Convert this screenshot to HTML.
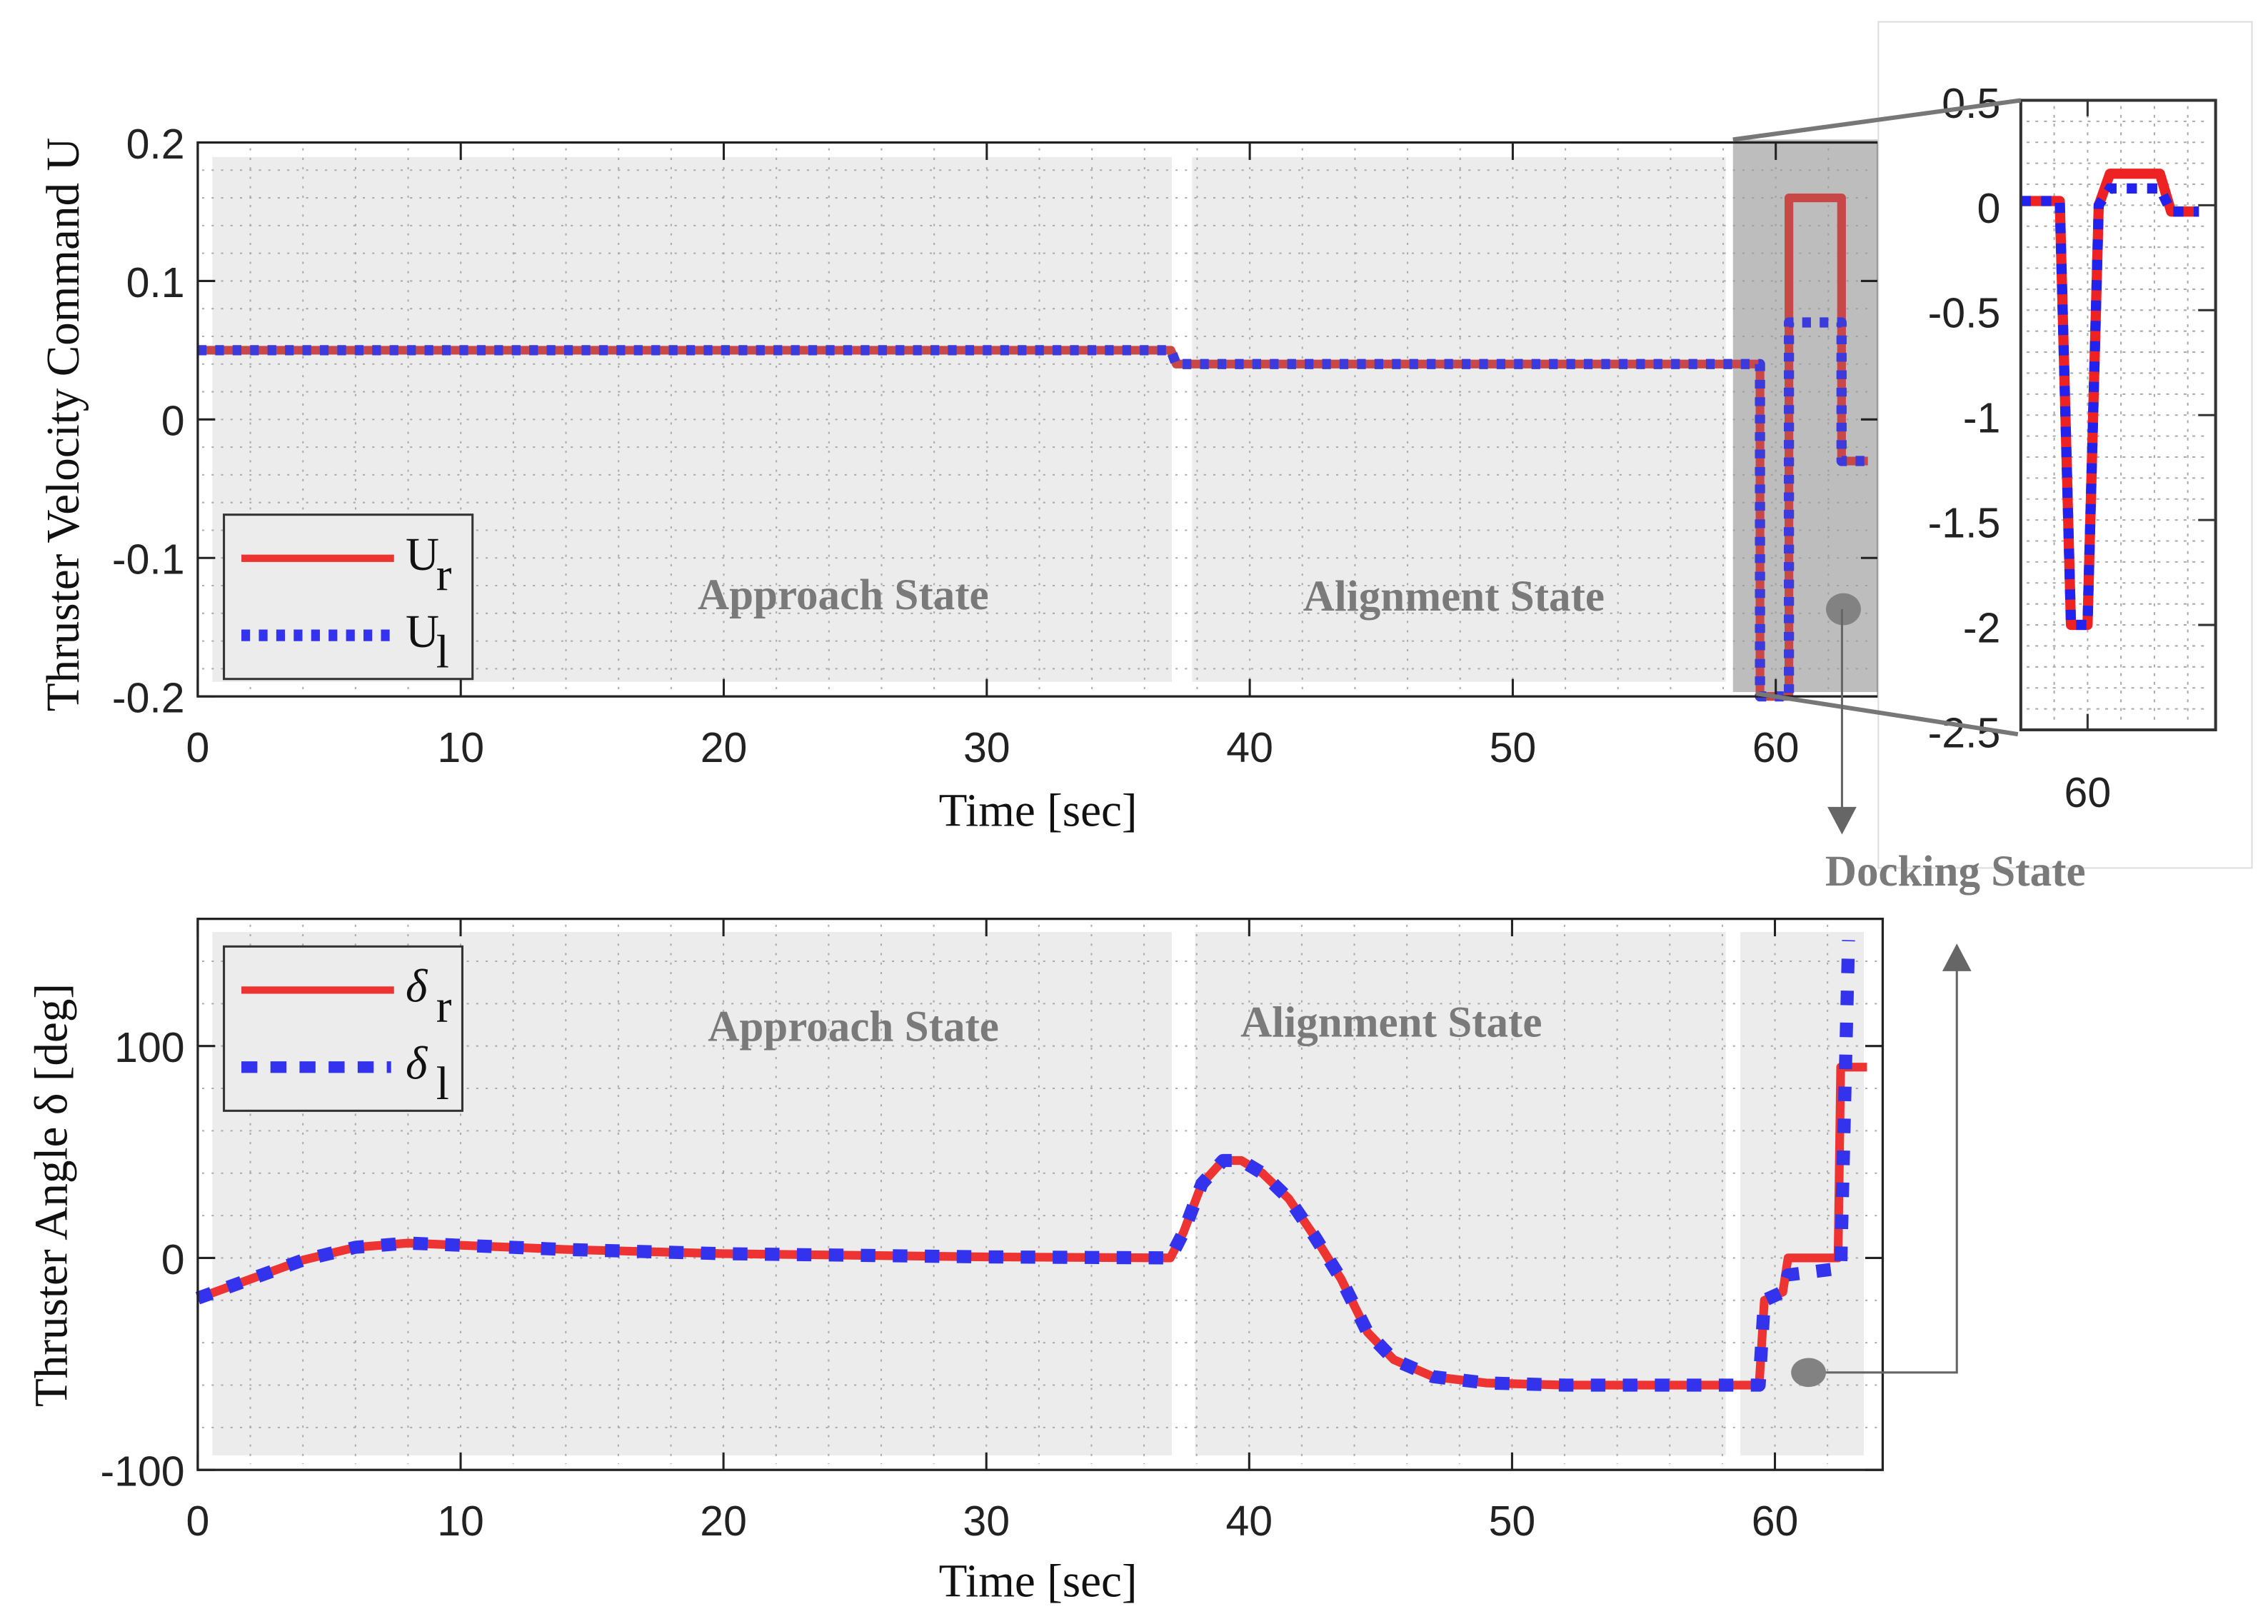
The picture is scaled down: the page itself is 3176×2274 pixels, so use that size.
<!DOCTYPE html>
<html><head><meta charset="utf-8"><style>
html,body{margin:0;padding:0;background:#fff;}
svg{display:block;}
.tk{font-family:"Liberation Sans",sans-serif;font-size:29px;fill:#222;}
.ttl{font-family:"Liberation Serif",serif;font-size:32px;fill:#111;}
.st{font-family:"Liberation Serif",serif;font-weight:bold;font-size:30px;fill:#7a7a7a;}
</style></head><body>
<svg id="fig" xmlns="http://www.w3.org/2000/svg" width="3176" height="2274" viewBox="0 0 1560 1117">
<rect width="1560" height="1117" fill="#fff"/>
<g id="topchart"></g>
<g id="botchart"></g>
<g id="inschart"></g>
</svg>
<script>
// ---- data ----
const urT = [0, 37, 37.2, 59.4, 59.4, 60.5, 60.5, 62.5, 62.5, 63.5];
const urV = [0.05, 0.05, 0.04, 0.04, -0.2, -0.2, 0.16, 0.16, -0.03, -0.03];
const ulT = [0, 37, 37.2, 59.4, 59.4, 60.5, 60.5, 62.5, 62.5, 63.5];
const ulV = [0.05, 0.05, 0.04, 0.04, -0.2, -0.2, 0.07, 0.07, -0.03, -0.03];
const drT = [0, 2, 4, 6, 8, 10, 14, 20, 30, 37, 37.5, 38.2, 39, 39.7, 40.5, 41.5, 42.5, 43.5, 44.5, 45.5, 47, 49, 52, 59.4, 59.6, 60.3, 60.5, 62.4, 62.5, 63.5];
const drV = [-19, -10, -1, 5, 7, 6, 4, 2, 0.5, 0, 12, 35, 46, 46, 40, 28, 10, -10, -35, -48, -56, -59, -60, -60, -20, -16, 0, 0, 90, 90];
const dlT = [0, 2, 4, 6, 8, 10, 14, 20, 30, 37, 37.5, 38.2, 39, 39.7, 40.5, 41.5, 42.5, 43.5, 44.5, 45.5, 47, 49, 52, 59.4, 59.6, 60.3, 60.5, 62.4, 62.5, 62.8];
const dlV = [-19, -10, -1, 5, 7, 6, 4, 2, 0.5, 0, 12, 35, 46, 46, 40, 28, 10, -10, -35, -48, -56, -59, -60, -60, -20, -16, -8, -5, -5, 150];
const insT = [58.8, 59.5, 59.7, 60.0, 60.2, 60.4, 61.3, 61.5, 62.0];
const insRV = [0.02, 0.02, -2.0, -2.0, 0.0, 0.15, 0.15, -0.03, -0.03];
const insLV = [0.02, 0.02, -2.0, -2.0, 0.0, 0.08, 0.08, -0.03, -0.03];
const topYTicks = [0.2, 0.1, 0, -0.1, -0.2];
const topYLabels = ["0.2", "0.1", "0", "-0.1", "-0.2"];
const botYTicks = [100, 0, -100];
const botYLabels = ["100", "0", "-100"];
const xTicks = [0, 10, 20, 30, 40, 50, 60];
const insYTicks = [0.5, 0, -0.5, -1, -1.5, -2, -2.5];
const insYLabels = ["0.5", "0", "-0.5", "-1", "-1.5", "-2", "-2.5"];

const NS = "http://www.w3.org/2000/svg";
function mk(parent, tag, attrs, text) {
  const e = document.createElementNS(NS, tag);
  for (const k in attrs) e.setAttribute(k, attrs[k]);
  if (text !== undefined) e.textContent = text;
  parent.appendChild(e);
  return e;
}
function nm(el, name) {
  
  
  return el;
}
function axis(x0, x1, y0, y1, xmin, xmax, ymin, ymax) {
  return {
    sx: t => x0 + (t - xmin) / (xmax - xmin) * (x1 - x0),
    sy: v => y1 - (v - ymin) / (ymax - ymin) * (y1 - y0)
  };
}
function pathD(ax, T, V) {
  return T.map((t, i) => (i ? "L" : "M") + ax.sx(t).toFixed(1) + " " + ax.sy(V[i]).toFixed(1)).join(" ");
}

function chart(g, box, ax, ymin, ymax, yStep, yTicks, yLabels, shades, series, legend, states) {
  const [x0, y0, x1, y1] = box;
  for (const s of shades) {
    const r = mk(g, "rect", {x: s[0], y: s[1], width: s[2] - s[0], height: s[3] - s[1], fill: s[4]});
    
    
  }
  const gg = mk(g, "g", {stroke: "#9a9a9a", "stroke-width": 1, "stroke-dasharray": "1.5 5", opacity: 0.8});
  
  
  for (let t = 2; t < 64; t += 2) mk(gg, "line", {x1: ax.sx(t), x2: ax.sx(t), y1: y0 + 4, y2: y1 - 4});
  for (let v = ymin + yStep; v < ymax - 1e-9; v += yStep) mk(gg, "line", {x1: x0 + 3, x2: x1 - 3, y1: ax.sy(v), y2: ax.sy(v)});
  for (const s of series) {
    const p = mk(g, "path", {d: pathD(ax, s.T, s.V), fill: "none", stroke: s.c, "stroke-width": s.w, "stroke-dasharray": s.dash || "none", "stroke-linejoin": "round"});
    
    
  }
  const f = mk(g, "rect", {x: x0, y: y0, width: x1 - x0, height: y1 - y0, fill: "none", stroke: "#222", "stroke-width": 1.6});
  
  
  for (const t of xTicks) {
    const X = ax.sx(t);
    mk(g, "line", {x1: X, x2: X, y1: y1, y2: y1 - 12, stroke: "#222", "stroke-width": 1.5});
    mk(g, "line", {x1: X, x2: X, y1: y0, y2: y0 + 12, stroke: "#222", "stroke-width": 1.5});
    const tx = mk(g, "text", {x: X, y: y1 + 45, "text-anchor": "middle", class: "tk"}, String(t));
    
    
  }
  yTicks.forEach((v, i) => {
    const Y = ax.sy(v);
    mk(g, "line", {x1: x0, x2: x0 + 12, y1: Y, y2: Y, stroke: "#222", "stroke-width": 1.5});
    mk(g, "line", {x1: x1, x2: x1 - 12, y1: Y, y2: Y, stroke: "#222", "stroke-width": 1.5});
    const tx = mk(g, "text", {x: x0 - 9, y: Y + 11, "text-anchor": "end", class: "tk"}, yLabels[i]);
    
    
  });
  for (const s of states) {
    const t = mk(g, "text", {x: s[0], y: s[1], "text-anchor": "middle", class: "st"}, s[2]);
    
    
  }
  const lg = mk(g, "g", {});
  
  
  const [lx0, ly0, lx1, ly1, sym, l1, l2] = legend;
  mk(lg, "rect", {x: lx0, y: ly0, width: lx1 - lx0, height: ly1 - ly0, fill: "#ececec", stroke: "#333", "stroke-width": 1.5});
  mk(lg, "line", {x1: lx0 + 12, x2: lx0 + 117, y1: l1, y2: l1, stroke: "#ee3333", "stroke-width": 5});
  mk(lg, "line", {x1: lx0 + 12, x2: lx0 + 115, y1: l2, y2: l2, stroke: "#3333ee", "stroke-width": 8, "stroke-dasharray": sym === "U" ? "6 6" : "11 9"});
  const e1 = mk(lg, "text", {x: lx0 + 125, y: l1 + 8, class: "ttl", "font-style": sym === "U" ? "normal" : "italic"}, sym === "U" ? "U" : "δ");
  
  
  mk(lg, "text", {x: lx0 + 146, y: l1 + 22, class: "ttl", "font-size": 22}, "r");
  const e2 = mk(lg, "text", {x: lx0 + 125, y: l2 + 8, class: "ttl", "font-style": sym === "U" ? "normal" : "italic"}, sym === "U" ? "U" : "δ");
  
  
  mk(lg, "text", {x: lx0 + 146, y: l2 + 22, class: "ttl", "font-size": 22}, "l");
}

const topG = document.getElementById("topchart");
const axT = axis(136, 1292, 98, 479, 0, 63.9, -0.2, 0.2);
chart(topG, [136, 98, 1292, 479], axT, -0.2, 0.2, 0.02, topYTicks, topYLabels,
  [[146, 108, 806, 469, "#ececec", "approach-region"], [820, 108, 1187, 469, "#ececec", "alignment-region"], [1192, 96, 1292, 476, "#bdbdbd", "docking-region-highlight"]],
  [{T: urT, V: urV, c: "#c84848", w: 6, name: "series-ur"}, {T: ulT, V: ulV, c: "#3b3bdd", w: 7, dash: "6 6", name: "series-ul"}],
  [154, 354, 325, 467, "U", 384, 437],
  [[580, 419, "Approach State", "approach-state-label"], [1000, 420, "Alignment State", "alignment-state-label"]]);
nm(mk(topG, "text", {x: 714, y: 568, "text-anchor": "middle", class: "ttl"}, "Time  [sec]"), 'x-axis-title');
nm(mk(topG, "text", {x: 0, y: 0, "text-anchor": "middle", class: "ttl", transform: "translate(54,292) rotate(-90)"}, "Thruster Velocity Command  U"), 'y-axis-title');

const botG = document.getElementById("botchart");
const axB = axis(136, 1295, 632, 1011, 0, 64.1, -100, 160);
chart(botG, [136, 632, 1295, 1011], axB, -100, 160, 20, botYTicks, botYLabels,
  [[146, 641, 806, 1001, "#ececec", "approach-region"], [822, 641, 1187, 1001, "#ececec", "alignment-region"], [1197, 641, 1282, 1001, "#ececec", "docking-region"]],
  [{T: drT, V: drV, c: "#ee3333", w: 6, name: "series-delta-r"}, {T: dlT, V: dlV, c: "#3333ee", w: 9, dash: "10 12", name: "series-delta-l"}],
  [154, 651, 318, 764, "d", 681, 734],
  [[587, 716, "Approach State", "approach-state-label"], [957, 713, "Alignment State", "alignment-state-label"]]);
nm(mk(botG, "text", {x: 714, y: 1098, "text-anchor": "middle", class: "ttl"}, "Time  [sec]"), 'x-axis-title');
nm(mk(botG, "text", {x: 0, y: 0, "text-anchor": "middle", class: "ttl", transform: "translate(46,822) rotate(-90)"}, "Thruster Angle  δ  [deg]"), 'y-axis-title');

const insG = document.getElementById("inschart");
nm(mk(insG, "rect", {x: 1292, y: 15, width: 257, height: 582, fill: "#fff", stroke: "#ddd", "stroke-width": 1}), 'inset-panel');
const axI = axis(1390, 1524, 69, 502, 58.8, 62.3, -2.5, 0.5);
const ig = mk(insG, "g", {stroke: "#aaa", "stroke-width": 1, "stroke-dasharray": "2 4"});


for (let v = -2.4; v < 0.5; v += 0.1) mk(ig, "line", {x1: 1394, x2: 1520, y1: axI.sy(v), y2: axI.sy(v)});
for (const t of [59.4, 60, 60.6, 61.2, 61.8]) mk(ig, "line", {x1: axI.sx(t), x2: axI.sx(t), y1: 73, y2: 498});
nm(mk(insG, "path", {d: pathD(axI, insT, insRV), fill: "none", stroke: "#ee2222", "stroke-width": 7, "stroke-linejoin": "round"}), 'inset-series-ur');
nm(mk(insG, "path", {d: pathD(axI, insT, insLV), fill: "none", stroke: "#2222ee", "stroke-width": 7, "stroke-dasharray": "7 7"}), 'inset-series-ul');
mk(insG, "rect", {x: 1390, y: 69, width: 134, height: 433, fill: "none", stroke: "#333", "stroke-width": 2});
insYTicks.forEach((v, i) => {
  const Y = axI.sy(v);
  mk(insG, "line", {x1: 1512, x2: 1524, y1: Y, y2: Y, stroke: "#333", "stroke-width": 1.5});
  const t = mk(insG, "text", {x: 1376, y: Y + 12, "text-anchor": "end", class: "tk", "font-size": 34}, insYLabels[i]);
  
  
});
mk(insG, "line", {x1: axI.sx(60), x2: axI.sx(60), y1: 69, y2: 80, stroke: "#333", "stroke-width": 1.5});
mk(insG, "line", {x1: axI.sx(60), x2: axI.sx(60), y1: 502, y2: 491, stroke: "#333", "stroke-width": 1.5});
nm(mk(insG, "text", {x: axI.sx(60), y: 555, "text-anchor": "middle", class: "tk", "font-size": 34}, "60"), 'inset-x-tick-label');
nm(mk(insG, "line", {x1: 1192, y1: 96, x2: 1390, y2: 69, stroke: "#777", "stroke-width": 3}), 'zoom-connector-top');
nm(mk(insG, "line", {x1: 1208, y1: 477, x2: 1388, y2: 505, stroke: "#777", "stroke-width": 3}), 'zoom-connector-bottom');
nm(mk(insG, "ellipse", {cx: 1268, cy: 419, rx: 12, ry: 11, fill: "#828282"}), 'docking-marker-top');
mk(insG, "line", {x1: 1267, y1: 419, x2: 1267, y2: 556, stroke: "#666", "stroke-width": 1.5});
nm(mk(insG, "path", {d: "M1257 555 L1277 555 L1267 574 Z", fill: "#666"}), 'arrow-down');
nm(mk(insG, "text", {x: 1345, y: 609, "text-anchor": "middle", class: "st"}, "Docking State"), 'docking-state-label');
nm(mk(insG, "ellipse", {cx: 1244, cy: 944, rx: 12, ry: 10, fill: "#828282"}), 'docking-marker-bottom');
mk(insG, "path", {d: "M1256 944 L1346 944 L1346 666", fill: "none", stroke: "#666", "stroke-width": 1.5});
nm(mk(insG, "path", {d: "M1336 668 L1356 668 L1346 649 Z", fill: "#666"}), 'arrow-up');
</script>
</body></html>
